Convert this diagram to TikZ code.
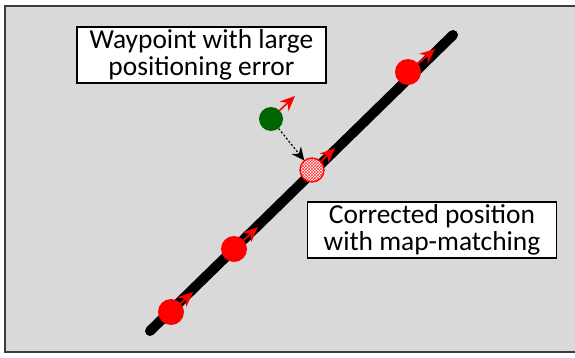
\documentclass[tikz,border=0pt]{standalone}
\usepackage{fontspec}
\setmainfont{Carlito}
\usetikzlibrary{arrows.meta,patterns,calc}
\begin{document}
\begin{tikzpicture}[x=1pt,y=-1pt,
  label box/.style={draw=black, line width=1.2pt, fill=white, align=center, inner sep=0pt,
    minimum width=249pt, minimum height=56pt, font=\fontsize{27.4}{27.5}\selectfont},
  waypoint/.style={circle, fill=red, inner sep=0pt, minimum size=26pt},
  heading/.style={red, line width=1.6pt, -{Stealth[length=15pt,width=13pt]}},
]
\useasboundingbox (0,0) rectangle (575,358);
\draw[fill={rgb,255:red,217;green,217;blue,217}, draw={rgb,255:red,60;green,60;blue,60}, line width=1.6pt] (5,6) rectangle (580,352);
% road
\coordinate (rs) at (150,331);
\coordinate (re) at (453,35);
\draw[line width=10pt, line cap=round] (rs) -- (re);
% waypoints on road
\node[waypoint] (w1) at (171,312) {};
\node[waypoint] (w2) at (234,249) {};
\node[waypoint] (w3) at (408,72) {};
\coordinate (t1) at (193,292);
\coordinate (t2) at (258,227);
\coordinate (t3) at (435,49);
\draw[heading] (w1.center) -- (t1);
\draw[heading] (w2.center) -- (t2);
\draw[heading] (w3.center) -- (t3);
% corrected position
\coordinate (t4) at (335,148);
\draw[heading] (312,170) -- (t4);
\node[circle, fill=white, inner sep=0pt, minimum size=24pt] (cp) at (312,170) {};
\fill[pattern=crosshatch, pattern color=red!80] (cp.center) circle (12pt);
\draw[red, line width=1.3pt] (cp.center) circle (12pt);
% erroneous waypoint
\node[circle, fill={rgb,255:red,0;green,100;blue,0}, inner sep=0pt, minimum size=24pt] (g) at (271,119) {};
\coordinate (t5) at (295,96);
\draw[heading] (g.center) ++(8,-8) -- (t5);
\draw[black, line width=1.2pt, dash pattern=on 2pt off 2pt, -{Stealth[length=13pt,width=12pt]}] (g) -- (cp);
% labels
\node[label box] (l1) at (201.5,55) {Waypoint with large\\positioning error};
\node[label box] (l2) at (432,230) {Corrected position\\with map-matching};
\end{tikzpicture}
\end{document}
